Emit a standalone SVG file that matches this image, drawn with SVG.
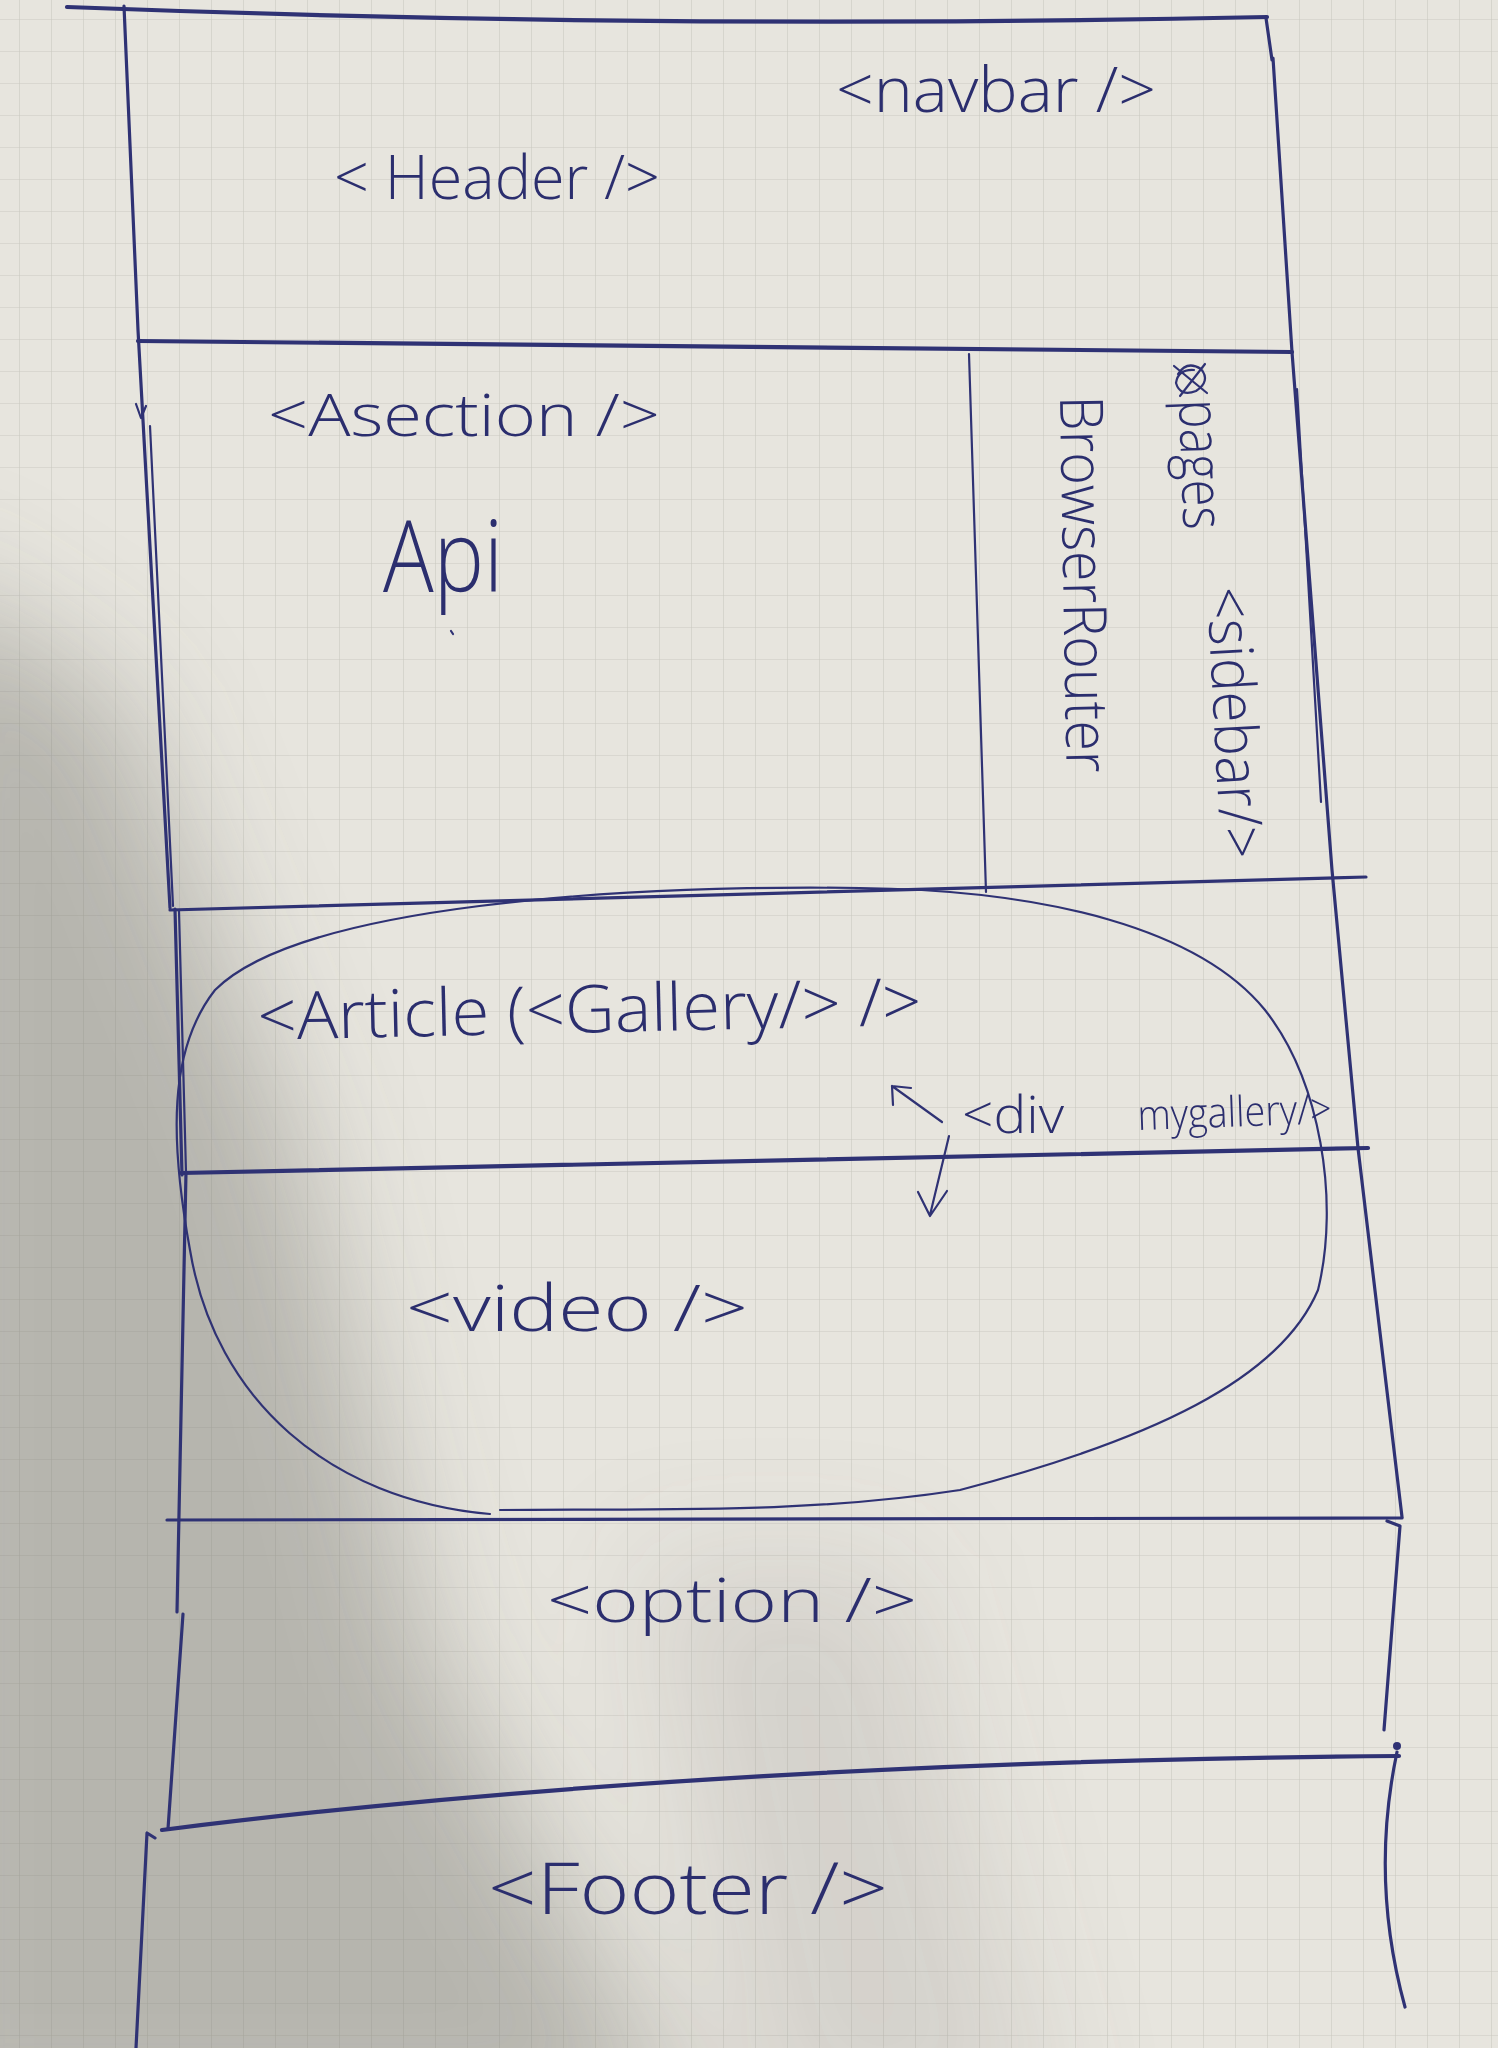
<svg xmlns="http://www.w3.org/2000/svg" width="1498" height="2048" viewBox="0 0 1498 2048">
  <defs>
    <!-- squared notebook paper -->
    <pattern id="grid" width="32" height="32" patternUnits="userSpaceOnUse" x="19" y="19">
      <path d="M32 0H0V32" fill="none" stroke="#cbc9c1" stroke-width="1.2"/>
    </pattern>
    <filter id="soft" x="-30%" y="-30%" width="160%" height="160%">
      <feGaussianBlur stdDeviation="60"/>
    </filter>
    <style>
      .ink { fill: none; stroke: #2f3274; stroke-linecap: round; stroke-linejoin: round; }
      .thick { stroke-width: 4.2; }
      .mid { stroke-width: 3.2; }
      .thin { stroke-width: 2.2; }
      .hand { font-family: "Open Sans", "Liberation Sans", sans-serif; font-weight: 300; fill: #2b2e6e; }
    </style>
  </defs>

  <!-- paper and lighting -->
  <rect width="1498" height="2048" fill="#e7e5de"/>
  <rect width="1498" height="2048" fill="url(#grid)"/>
  <g id="shadow" filter="url(#soft)">
    <polygon points="-100,560 120,700 300,1150 430,1650 700,2148 -100,2148" fill="#6f6e6a" opacity="0.4"/>
    <polygon points="640,1560 900,1560 1060,2148 760,2148" fill="#7a7975" opacity="0.16"/>
  </g>

  <!-- page frame and section dividers -->
  <g id="frame">
    <path class="ink thick" d="M67,7 Q660,30 1267,17"/>
    <path class="ink mid" d="M124,6 L138,330 L170,908"/>
    <path class="ink thin" d="M150,426 L173,906"/>
    <path class="ink thin" d="M136,404 L141,418 L146,406"/>
    <path class="ink mid" d="M1266,18 L1272,60 M1273,58 L1292,352 L1332,870 L1358,1148 L1402,1517"/>
    <path class="ink thin" d="M1297,389 L1321,802"/>
  </g>

  <g id="header">
    <path class="ink thick" d="M138,341 L1292,352"/>
    <text class="hand" x="836" y="112" font-size="62" textLength="320" lengthAdjust="spacingAndGlyphs">&lt;navbar /&gt;</text>
    <text class="hand" x="334" y="199" font-size="60" textLength="326" lengthAdjust="spacingAndGlyphs">&lt; Header /&gt;</text>
  </g>

  <g id="asection">
    <text class="hand" x="268" y="436" font-size="58" textLength="392" lengthAdjust="spacingAndGlyphs">&lt;Asection /&gt;</text>
    <text class="hand" x="383" y="592" font-size="100" textLength="120" lengthAdjust="spacingAndGlyphs">Api</text>
    <path class="ink thin" d="M451,631 L453,634"/>
  </g>

  <g id="sidebar">
    <path class="ink thin" d="M969,354 L986,892"/>
    <text class="hand" font-size="60" textLength="377" lengthAdjust="spacingAndGlyphs" transform="translate(1060,396) rotate(89)">BrowserRouter</text>
    <path class="ink thin" d="M1178,374 q9,-14 23,-5 q10,12 -5,22 q-16,6 -20,-8 q2,-14 18,-13 M1174,366 L1207,393 M1205,364 L1180,396"/>
    <text class="hand" font-size="58" textLength="130" lengthAdjust="spacingAndGlyphs" transform="translate(1179,400) rotate(88)">pages</text>
    <text class="hand" font-size="60" textLength="272" lengthAdjust="spacingAndGlyphs" transform="translate(1207,588) rotate(87)">&lt;sidebar/&gt;</text>
  </g>

  <g id="article">
    <path class="ink mid" d="M170,910 L1366,877"/>
    <path class="ink mid" d="M175,909 L182,1175"/>
    <path class="ink thin" d="M179,911 L186,1172"/>
    <text class="hand" x="258" y="1040" font-size="66" textLength="664" lengthAdjust="spacingAndGlyphs" transform="rotate(-1.3 258 1040)">&lt;Article (&lt;Gallery/&gt; /&gt;</text>
  </g>

  <g id="mygallery">
    <path class="ink thin" d="M490,1514 C330,1500 215,1400 190,1250 C170,1140 168,1050 215,990 C300,905 620,885 860,888 C1050,890 1200,930 1265,1010 C1320,1080 1340,1200 1318,1290 C1280,1380 1150,1440 960,1490 C800,1515 640,1508 500,1510"/>
    <text class="hand" x="962" y="1133" font-size="52" textLength="102" lengthAdjust="spacingAndGlyphs">&lt;div</text>
    <text class="hand" x="1138" y="1130" font-size="42" textLength="194" lengthAdjust="spacingAndGlyphs" transform="rotate(-2 1138 1130)">mygallery/&gt;</text>
  </g>

  <g id="video">
    <path class="ink thick" d="M181,1173 L1368,1148"/>
    <path class="ink mid" d="M186,1172 L177,1612"/>
    <text class="hand" x="406" y="1331" font-size="64" textLength="342" lengthAdjust="spacingAndGlyphs">&lt;video /&gt;</text>
  </g>

  <g id="option">
    <path class="ink mid" d="M167,1520 L1402,1518"/>
    <path class="ink mid" d="M183,1614 L168,1829"/>
    <path class="ink mid" d="M1387,1521 L1400,1526 L1384,1730"/>
    <circle cx="1397" cy="1746" r="4" fill="#2f3274"/>
    <text class="hand" x="547" y="1622" font-size="60" textLength="370" lengthAdjust="spacingAndGlyphs">&lt;option /&gt;</text>
  </g>

  <g id="footer">
    <path class="ink thick" d="M162,1830 Q700,1762 1399,1756"/>
    <path class="ink mid" d="M155,1838 L147,1833 L136,2048"/>
    <path class="ink mid" d="M1397,1752 Q1370,1880 1405,2007"/>
    <text class="hand" x="488" y="1914" font-size="72" textLength="400" lengthAdjust="spacingAndGlyphs">&lt;Footer /&gt;</text>
  </g>

  <!-- arrows beside the gallery div -->
  <g id="connectors">
    <path class="ink thin" d="M942,1122 L892,1086 M892,1086 L911,1088 M892,1086 L893,1105"/>
    <path class="ink thin" d="M949,1136 L930,1215 M918,1192 L930,1216 L947,1191"/>
  </g>
</svg>
